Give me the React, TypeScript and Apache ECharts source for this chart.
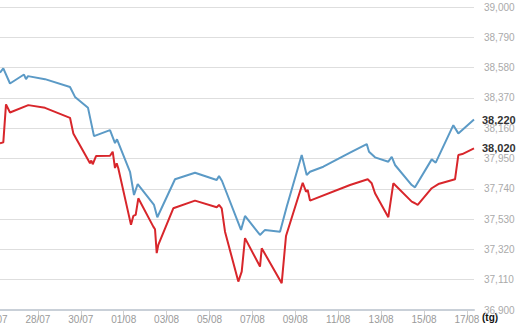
import React, { useEffect, useRef } from "react";
import * as echarts from "echarts";

// Day offsets counted from 26/07 (day 0); axis labels every 2 days
const blueDays = [0.233, 0.387, 0.699, 1.352, 1.445, 1.538, 2.331, 3.497, 3.73, 4.336, 4.615, 5.361, 5.594, 5.688, 6.294, 6.48, 6.653, 7.413, 7.567, 8.392, 9.324, 10.336, 10.443, 10.583, 11.469, 11.655, 12.354, 12.587, 13.287, 13.599, 14.298, 14.531, 14.685, 15.306, 16.55, 17.33, 17.436, 17.716, 18.336, 18.495, 18.648, 19.427, 19.58, 20.359, 20.545, 21.366, 21.599, 22.33];
const blueValues = [38545, 38574, 38470, 38532, 38500, 38521, 38500, 38446, 38377, 38301, 38105, 38147, 38057, 38083, 37858, 37697, 37773, 37628, 37543, 37806, 37851, 37801, 37829, 37794, 37455, 37552, 37420, 37455, 37443, 37616, 37974, 37836, 37858, 37893, 37990, 38050, 37997, 37958, 37928, 37962, 37905, 37766, 37750, 37944, 37921, 38181, 38124, 38220];

const redDays = [0.233, 0.387, 0.513, 0.699, 1.552, 2.331, 3.497, 3.651, 4.429, 4.49, 4.555, 4.709, 5.361, 5.487, 5.594, 5.674, 5.748, 6.34, 6.448, 6.559, 6.681, 7.38, 7.46, 7.539, 7.613, 8.312, 9.324, 10.336, 10.443, 10.569, 10.723, 11.343, 11.501, 11.655, 12.354, 12.434, 13.366, 13.566, 14.345, 14.499, 14.578, 14.685, 16.55, 17.375, 17.562, 17.716, 18.336, 18.569, 19.427, 19.58, 19.706, 20.359, 20.667, 21.445, 21.599, 21.786, 22.33];
const redValues = [38055, 38062, 38325, 38269, 38320, 38301, 38232, 38124, 37917, 37936, 37910, 37967, 37969, 37997, 37884, 37917, 37882, 37490, 37552, 37559, 37674, 37478, 37460, 37294, 37351, 37605, 37658, 37612, 37628, 37605, 37443, 37097, 37166, 37398, 37201, 37328, 37086, 37413, 37782, 37720, 37732, 37658, 37766, 37806, 37778, 37709, 37543, 37778, 37651, 37640, 37628, 37744, 37773, 37806, 37974, 37981, 38020];

const yMin = 36900;
const yMax = 39000;
const yStep = 210;
const xMax = 22.33;
const xUnitLabel = "(tg)";

const pad = (n: number) => (n < 10 ? "0" + n : "" + n);
const dayLabel = (d: number) => {
  if (Math.abs(d - Math.round(d)) > 1e-6) return "";
  let day = 26 + Math.round(d);
  let month = 7;
  if (day > 31) {
    day -= 31;
    month = 8;
  }
  return pad(day) + "/" + pad(month);
};
const fmt = (v: number) => Math.round(v).toLocaleString("en-US");

export default function App() {
  const ref = useRef<HTMLDivElement>(null);
  useEffect(() => {
    if (!ref.current) return;
    const chart = echarts.init(ref.current, undefined, { renderer: "svg" });
    const endLabel = {
      show: true,
      distance: 8,
      fontFamily: "Liberation Sans, Arial, sans-serif",
      fontWeight: "bold" as const,
      fontSize: 11,
      color: "#333",
      formatter: (p: any) => fmt(p.value[1]),
    };
    chart.setOption({
      animation: false,
      backgroundColor: "#fff",
      grid: { left: 35, right: 46, top: 7, bottom: 14 },
      xAxis: {
        type: "value",
        min: 0,
        max: xMax,
        interval: 2,
        axisLine: { show: true, lineStyle: { color: "#c9d0d8", width: 2 } },
        axisTick: { show: true, length: 10, lineStyle: { color: "#d0d0d0" } },
        splitLine: { show: false },
        axisLabel: {
          formatter: (v: number) => dayLabel(v),
          color: "#9a9a9a",
          fontSize: 10,
          margin: 4,
          fontFamily: "Liberation Sans, Arial, sans-serif",
          showMaxLabel: false,
        },
      },
      yAxis: {
        type: "value",
        position: "right",
        min: yMin,
        max: yMax,
        interval: yStep,
        axisLine: { show: true, lineStyle: { color: "#dcdcdc", width: 1 } },
        axisTick: { show: false },
        splitLine: { show: true, lineStyle: { color: "#dedede", width: 1 } },
        axisLabel: {
          formatter: (v: number) => fmt(v),
          color: "#aaaaaa",
          fontSize: 10,
          margin: 10,
          fontFamily: "Liberation Sans, Arial, sans-serif",
        },
      },
      series: [
        {
          type: "line",
          name: "blue",
          data: blueDays.map((d, i) => [d, blueValues[i]]),
          showSymbol: false,
          symbol: "none",
          lineStyle: { color: "#5b9ac6", width: 2 },
          itemStyle: { color: "#5b9ac6" },
          endLabel,
          z: 3,
        },
        {
          type: "line",
          name: "red",
          data: redDays.map((d, i) => [d, redValues[i]]),
          showSymbol: false,
          symbol: "none",
          lineStyle: { color: "#d8262b", width: 2 },
          itemStyle: { color: "#d8262b" },
          endLabel,
          z: 4,
        },
      ],
      graphic: [
        {
          type: "text",
          left: 522,
          top: 312,
          style: {
            text: xUnitLabel,
            fontSize: 10,
            fontWeight: "bold",
            fill: "#111",
            fontFamily: "Liberation Sans, Arial, sans-serif",
          },
        },
      ],
    });
    return () => chart.dispose();
  }, []);
  return (
    <div
      style={{
        position: "absolute",
        left: 0,
        top: 0,
        width: 520,
        height: 324,
        overflow: "hidden",
        background: "#fff",
      }}
    >
      <div ref={ref} style={{ position: "absolute", left: -40, top: 0, width: 560, height: 324 }} />
    </div>
  );
}
